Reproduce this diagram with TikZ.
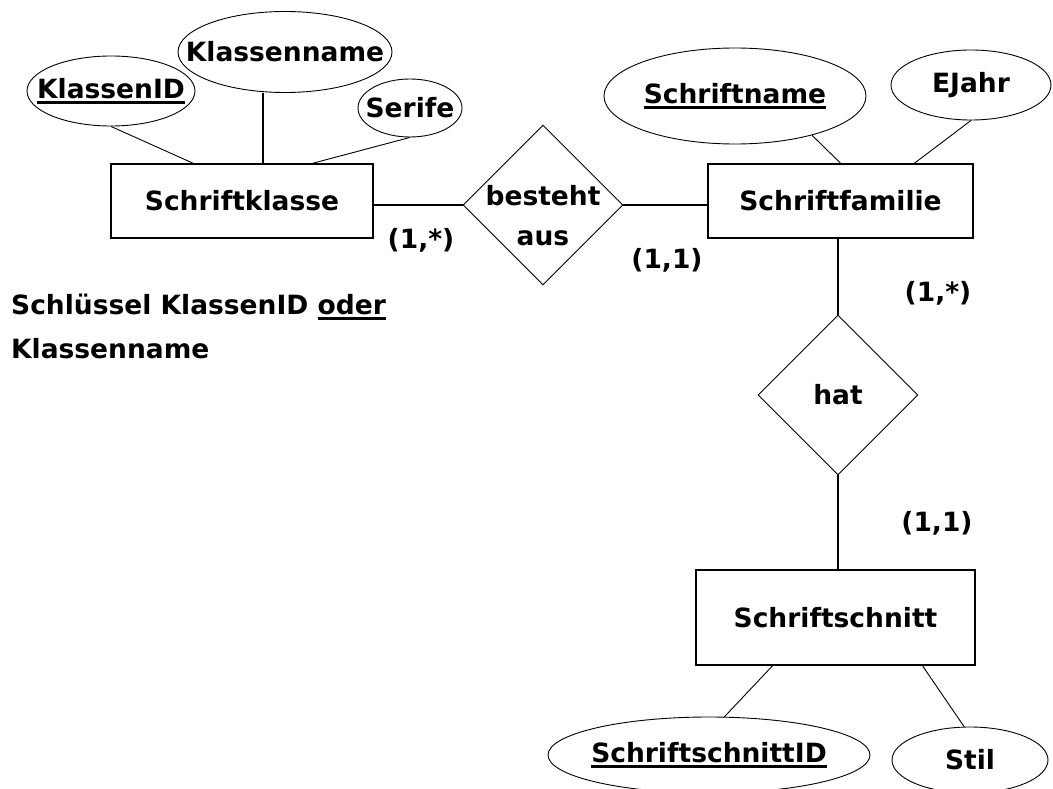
\documentclass[tikz,border=0pt]{standalone}
\usepackage{fontspec}
\setmainfont{DejaVu Sans}
\usetikzlibrary{shapes.geometric,positioning}

% underlined key attribute
\newcommand{\keyul}[1]{\setbox0=\hbox{#1}\rlap{\rule[-6pt]{\wd0}{3pt}}\box0}
% text that does not widen its shape
\newcommand{\inshape}[1]{\makebox[0pt]{#1}}

\begin{document}
\begin{tikzpicture}[x=1pt,y=-1pt,
    font=\fontsize{26.5}{40}\selectfont\bfseries,
    entity/.style={draw, line width=1.6pt, rectangle, inner sep=0pt},
    attr/.style={draw, line width=0.9pt, ellipse, inner sep=0pt},
    rel/.style={draw, line width=0.9pt, diamond, inner sep=0pt, minimum width=160pt, minimum height=160pt},
    link/.style={line width=1.6pt},
    attrlink/.style={line width=0.9pt},
    card/.style={inner sep=0pt}]
    \useasboundingbox (0,0) rectangle (1053,789);
    \clip (0,0) rectangle (1053,789);

    % Entities
    \node[entity, minimum width=262pt, minimum height=74pt] (sk) at (242,201) {Schriftklasse};
    \node[entity, minimum width=265pt, minimum height=74pt] (sf) at (840.5,201) {Schriftfamilie};
    \node[entity, minimum width=279pt, minimum height=95pt] (sst) at (835.5,617.5) {Schriftschnitt};

    % Relationships
    \node[rel, label={[align=center, yshift=-11pt]center:besteht\\aus}] (ba) at (543,205) {};
    \node[rel] (hat) at (838,395) {hat};

    % Attributes
    \node[attr, minimum width=168pt, minimum height=70pt] (kid) at (111,91) {\inshape{\keyul{KlassenID}}};
    \node[attr, minimum width=214pt, minimum height=81pt] (kn) at (285,52) {\inshape{Klassenname}};
    \node[attr, minimum width=104pt, minimum height=58pt] (ser) at (410,108) {\inshape{Serife}};
    \node[attr, minimum width=262pt, minimum height=96pt] (sn) at (735,96) {\inshape{\keyul{Schriftname}}};
    \node[attr, minimum width=160pt, minimum height=70pt] (ej) at (971,85) {\inshape{EJahr}};
    \node[attr, minimum width=322pt, minimum height=76pt] (sid) at (709,755) {\inshape{\keyul{SchriftschnittID}}};
    \node[attr, minimum width=156pt, minimum height=66pt] (stil) at (970,760) {\inshape{Stil}};

    % Attribute links
    \draw[attrlink] (kid.south) -- ([xshift=-49pt]sk.north);
    \draw[link] ([xshift=-22pt]kn.south) -- ([xshift=21pt]sk.north);
    \draw[attrlink] (ser.south) -- ([xshift=71pt]sk.north);
    \draw[attrlink] (sn.-27) -- (sf.north);
    \draw[attrlink] (ej.south) -- ([xshift=74pt]sf.north);
    \draw[attrlink] ([xshift=-63pt]sst.south) -- (sid.68);
    \draw[attrlink] ([xshift=87pt]sst.south) -- (stil.100);

    % Relationship links
    \draw[link] (ba.west -| sk.east) -- (ba.west);
    \draw[link] (ba.east) -- (ba.east -| sf.west);
    \draw[link] (hat.north |- sf.south) -- (hat.north);
    \draw[link] (hat.south) -- (hat.south |- sst.north);

    % Cardinalities
    \node[card] (c1) at (421,240) {(1,*)};
    \node[card] (c2) at (667,260) {(1,1)};
    \node[card] (c3) at (938,293) {(1,*)};
    \node[card] (c4) at (937,523) {(1,1)};

    % Note
    \node[anchor=west, align=left, inner sep=0pt, font=\fontsize{26.5}{44}\selectfont\bfseries] (note) at (11,326)
        {Schlüssel KlassenID \keyul{oder}\\Klassenname};
\end{tikzpicture}
\end{document}
